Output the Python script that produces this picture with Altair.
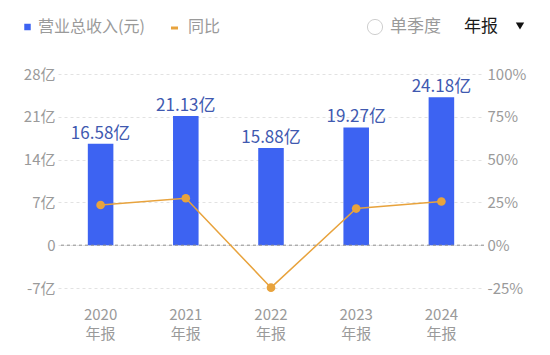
import altair as alt
import pandas as pd

years = ["2020", "2021", "2022", "2023", "2024"]
revenue = [16.58, 21.13, 15.88, 19.27, 24.18]
revenue_labels = ["16.58亿", "21.13亿", "15.88亿", "19.27亿", "24.18亿"]
yoy = [23.5, 27.4, -24.8, 21.4, 25.5]

left_ticks = [-7, 0, 7, 14, 21, 28]
right_ticks = [-25, 0, 25, 50, 75, 100]

FONT = "Noto Sans CJK SC"
BLUE = "#3d63f2"
LABEL_BLUE = "#4059b0"
ORANGE = "#e8a33d"
GRAY = "#9a9a9a"

df = pd.DataFrame({"year": years, "rev": revenue, "lab": revenue_labels, "yoy": yoy})
one = pd.DataFrame({"k": [0]})

x_enc = alt.X("year:N", sort=years, title=None,
              scale=alt.Scale(paddingInner=0.7, paddingOuter=0.35),
              axis=alt.Axis(labelExpr="[datum.label, '年报']", labelAngle=0,
                            labelColor=GRAY, labelFont=FONT, labelFontSize=15,
                            labelLineHeight=19, labelPadding=19, domain=False,
                            ticks=False, grid=False, labelBaseline="top"))

y_left = alt.Y("rev:Q", title=None,
               scale=alt.Scale(domain=[-7, 28], nice=False, zero=False),
               axis=alt.Axis(values=left_ticks,
                             labelExpr="datum.value == 0 ? '0' : datum.value + '亿'",
                             labelColor=GRAY, labelFont=FONT, labelFontSize=15,
                             labelPadding=3, domain=False, ticks=False,
                             grid=True, gridColor="#e2e2e2", gridDash=[3, 3],
                             orient="left"))

bars = alt.Chart(df).mark_bar(color=BLUE).encode(x=x_enc, y=y_left)
bar_text = alt.Chart(df).mark_text(color=LABEL_BLUE, font=FONT, fontSize=17,
                                   baseline="bottom", dy=-1).encode(
    x=alt.X("year:N", sort=years), y=alt.Y("rev:Q"), text="lab:N")
zero_line = alt.Chart(one).mark_rule(color="#8a8a8a", strokeDash=[3, 3],
                                     strokeWidth=1).encode(y=alt.datum(0))

left_layer = alt.layer(bars, zero_line, bar_text)

y_right = alt.Y("yoy:Q", title=None,
                scale=alt.Scale(domain=[-25, 100], nice=False, zero=False),
                axis=alt.Axis(values=right_ticks, labelExpr="datum.value + '%'",
                              labelColor=GRAY, labelFont=FONT, labelFontSize=15,
                              labelPadding=3, domain=False, ticks=False,
                              grid=False, orient="right"))

line = alt.Chart(df).mark_line(color=ORANGE, strokeWidth=1.5).encode(
    x=alt.X("year:N", sort=years), y=y_right)
pts = alt.Chart(df).mark_circle(color=ORANGE, size=75, opacity=1).encode(
    x=alt.X("year:N", sort=years), y=alt.Y("yoy:Q"))
right_layer = alt.layer(line, pts)

# header legend / controls
HY = -47
hdr = [
    alt.Chart(one).mark_square(color=BLUE, size=42, opacity=1).encode(
        x=alt.value(27.5 - 58), y=alt.value(HY)),
    alt.Chart(one).mark_text(text="营业总收入(元)", font=FONT, fontSize=16,
                             color=GRAY, align="left", baseline="middle").encode(
        x=alt.value(38 - 58), y=alt.value(HY)),
    alt.Chart(one).mark_rule(color=ORANGE, strokeWidth=3).encode(
        x=alt.value(171 - 58), x2=alt.value(178 - 58), y=alt.value(HY + 1)),
    alt.Chart(one).mark_text(text="同比", font=FONT, fontSize=16,
                             color=GRAY, align="left", baseline="middle").encode(
        x=alt.value(188 - 58), y=alt.value(HY)),
    alt.Chart(one).mark_point(shape="circle", filled=False, color="#cfcfcf",
                              size=230, strokeWidth=1, opacity=1).encode(
        x=alt.value(375 - 58), y=alt.value(HY)),
    alt.Chart(one).mark_text(text="单季度", font=FONT, fontSize=17,
                             color=GRAY, align="left", baseline="middle").encode(
        x=alt.value(390 - 58), y=alt.value(HY)),
    alt.Chart(one).mark_text(text="年报", font=FONT, fontSize=17,
                             color="#1a1a1a", align="left", baseline="middle").encode(
        x=alt.value(464 - 58), y=alt.value(HY)),
    alt.Chart(one).mark_point(shape="triangle-down", filled=True, color="#111111",
                              size=70, opacity=1).encode(
        x=alt.value(520 - 58), y=alt.value(HY - 1)),
]

chart = alt.layer(left_layer, right_layer, *hdr).resolve_scale(
    y="independent"
).properties(
    width=426, height=214,
    padding={"left": 58, "top": 74, "right": 66, "bottom": 67},
    autosize=alt.AutoSizeParams(type="none"),
    background="white",
).configure_view(stroke=None)

chart.save("out.html", embed_options={"renderer": "svg", "actions": False})
